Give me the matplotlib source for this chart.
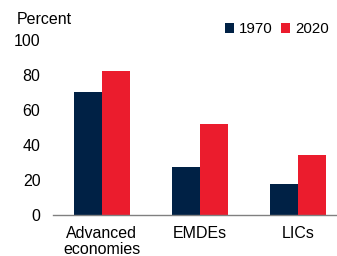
import matplotlib
matplotlib.use("Agg")
import matplotlib.pyplot as plt
import numpy as np

categories = ["Advanced\neconomies", "EMDEs", "LICs"]
series_names = ["1970", "2020"]
values_1970 = [70, 27.5, 18]
values_2020 = [82.5, 52, 34.5]
yticks = [0, 20, 40, 60, 80, 100]

plt.rcParams['font.family'] = ['Liberation Sans', 'DejaVu Sans']
FS = 11.5
fig = plt.figure(figsize=(3.37, 2.56), dpi=100)
ax = fig.add_axes([0.157, 0.16, 0.84, 0.684])

x = np.arange(len(categories))
w = 0.286
ax.bar(x - w/2, values_1970, width=w, color="#002145", label=series_names[0])
ax.bar(x + w/2, values_2020, width=w, color="#EB1C2D", label=series_names[1])

ax.set_ylim(0, 100)
ax.set_xlim(-0.5, 2.39)
ax.set_yticks(yticks)
ax.set_xticks(x)
ax.set_xticklabels(categories, fontsize=FS, linespacing=1.05)
ax.tick_params(axis='y', length=0, labelsize=FS, pad=9)
ax.tick_params(axis='x', length=0, pad=8)
for s in ["top", "right", "left"]:
    ax.spines[s].set_visible(False)
ax.spines["bottom"].set_color("#808080")
ax.spines["bottom"].set_linewidth(1.0)

fig.text(17/337, 1 - 20/256, "Percent", fontsize=FS, va="center", ha="left")
ax.legend(loc="upper right", bbox_to_anchor=(0.995, 1.135), ncol=2, frameon=False,
          fontsize=10.8, handlelength=0.6, handleheight=0.6, handletextpad=0.3,
          columnspacing=0.6, borderaxespad=0)

fig.savefig("out.png", dpi=100)
